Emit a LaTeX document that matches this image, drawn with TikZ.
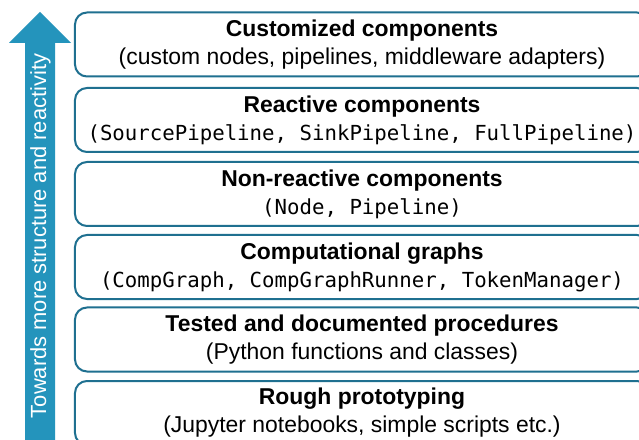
\documentclass[tikz,border=0pt]{standalone}
\usepackage{fontspec}
\setmainfont{Liberation Sans}
\newfontfamily\codefont{DejaVu Sans Mono}
\definecolor{layerblue}{HTML}{1F7090}
\definecolor{arrowblue}{HTML}{2494BC}
\tikzset{
  layer/.style={draw=layerblue, line width=2bp, rounded corners=12bp,
    minimum width=574bp, minimum height=64bp, inner sep=0pt, align=center,
    font=\fontsize{23}{28}\selectfont},
}
\newcommand{\code}[1]{{\codefont\fontsize{20.8}{28}\selectfont #1}}
\begin{document}
\begin{tikzpicture}[x=1bp,y=-1bp]
    \clip (0,0) rectangle (639,440);
    \fill[white] (0,0) rectangle (639,440);
    % upward arrow
    \fill[arrowblue] (25,445) -- (25,43) -- (9,43) -- (40,12) -- (71,43) -- (55,43) -- (55,445) -- cycle;
    \node[rotate=90, text=white, font=\fontsize{22}{28}\selectfont] at (40.5,236) (AR) {Towards more structure and reactivity};
    % layers
    \node[layer] at (362,44.5) (L6) {\textbf{Customized components}\\(custom nodes, pipelines, middleware adapters)};
    \node[layer] at (362,120) (L5) {\textbf{Reactive components}\\\code{(SourcePipeline, SinkPipeline, FullPipeline)}};
    \node[layer] at (362,194) (L4) {\textbf{Non-reactive components}\\\code{(Node, Pipeline)}};
    \node[layer] at (362,267) (L3) {\textbf{Computational graphs}\\\code{(CompGraph, CompGraphRunner, TokenManager)}};
    \node[layer] at (362,339.5) (L2) {\textbf{Tested and documented procedures}\\(Python functions and classes)};
    \node[layer] at (362,413) (L1) {\textbf{Rough prototyping}\\(Jupyter notebooks, simple scripts etc.)};
\end{tikzpicture}
\end{document}
